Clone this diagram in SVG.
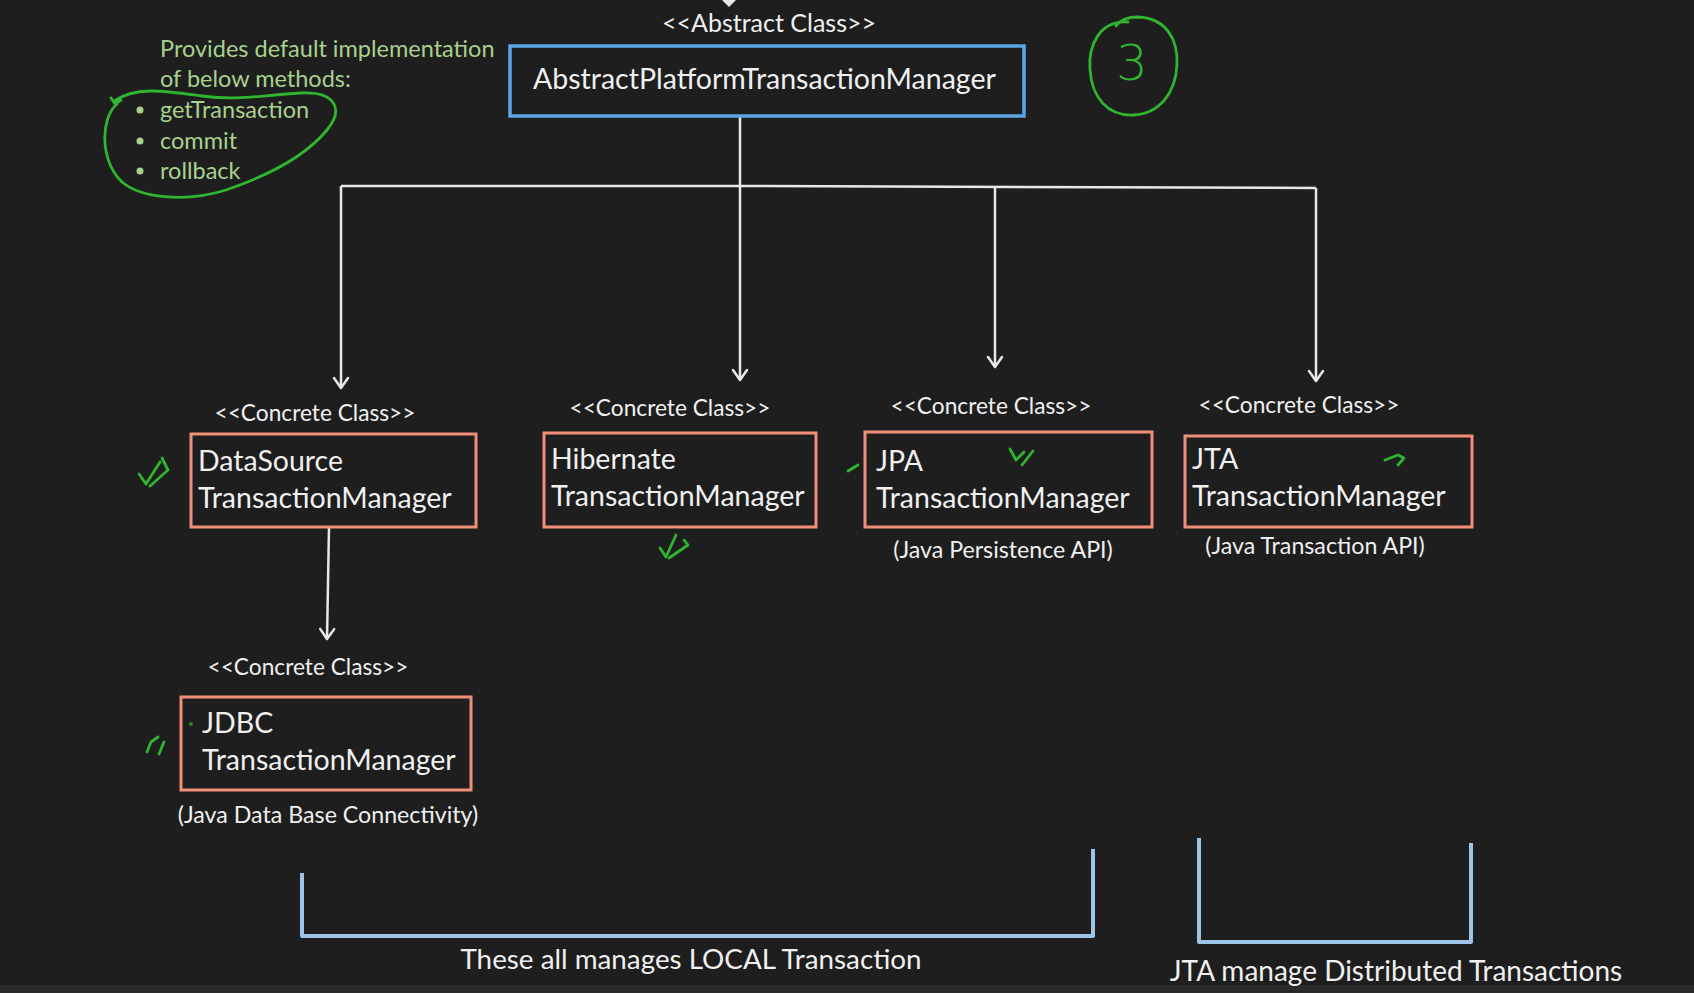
<svg xmlns="http://www.w3.org/2000/svg" width="1694" height="993" viewBox="0 0 1694 993">
<defs>
<style>
.t{font-family:Lato,"Open Sans","Liberation Sans",sans-serif;fill:#f0f0f0}
.box{font-size:28.5px}
.st{font-size:22.7px}
.par{font-size:23.2px}
.note{font-family:Lato,"Open Sans","Liberation Sans",sans-serif;fill:#a9d18e;font-size:23.5px}
.cls{fill:#1e1e1e;stroke:#ef8f78;stroke-width:3}
.abs{fill:#1e1e1e;stroke:#5da5e6;stroke-width:3.5}
.con{fill:none;stroke:#e8e8e8;stroke-width:2.5}
.brk{fill:none;stroke:#9dc3e6;stroke-width:4;stroke-linejoin:round}
.ink{fill:none;stroke:#2fb52f;stroke-width:2.8;stroke-linecap:round;stroke-linejoin:round}
</style>
<marker id="arr" markerUnits="userSpaceOnUse" markerWidth="20" markerHeight="20" refX="0" refY="0" orient="auto" overflow="visible">
<path d="M -10 -7 L 0 0 L -10 7" fill="none" stroke="#e8e8e8" stroke-width="2.5" stroke-linecap="round" stroke-linejoin="round"/>
</marker>
</defs>
<rect width="1694" height="993" fill="#1e1e1e"/>
<rect y="985" width="1694" height="8" fill="#2a2a2a"/>
<polygon points="722,0 736,0 729,7" fill="#e8e8e8"/>

<g id="connectors">
<line class="con" x1="740" y1="116" x2="740" y2="186"/>
<polyline class="con" points="341,186 740,186 1316,188"/>
<line class="con" x1="341" y1="186" x2="341" y2="388" marker-end="url(#arr)"/>
<line class="con" x1="740" y1="186" x2="740" y2="380" marker-end="url(#arr)"/>
<line class="con" x1="995" y1="187" x2="995" y2="367" marker-end="url(#arr)"/>
<line class="con" x1="1316" y1="188" x2="1316" y2="381" marker-end="url(#arr)"/>
<line class="con" x1="329" y1="527" x2="327" y2="639" marker-end="url(#arr)"/>
</g>

<g id="note">
<text class="note" x="160" y="57">Provides default implementation</text>
<text class="note" x="160" y="87">of below methods:</text>
<circle cx="140" cy="110" r="3.5" fill="#a9d18e"/>
<circle cx="140" cy="141" r="3.5" fill="#a9d18e"/>
<circle cx="140" cy="171" r="3.5" fill="#a9d18e"/>
<text class="note" x="160" y="118">getTransaction</text>
<text class="note" x="160" y="149">commit</text>
<text class="note" x="160" y="179">rollback</text>
<path class="ink" d="M 117 104 C 100 118, 100 162, 122 182 C 142 199, 188 202, 226 190 C 264 177, 304 158, 327 130 C 345 108, 334 91, 300 93 C 262 95, 240 101, 202 96 C 165 91, 136 86, 114 101 M 111 98 L 115 104 L 121 100"/>
</g>

<g id="step3">
<path class="ink" d="M 1128 22 C 1100 20, 1088 45, 1090 70 C 1092 98, 1108 116, 1133 115 C 1160 114, 1176 92, 1177 64 C 1178 38, 1165 18, 1138 17 C 1128 17, 1120 20, 1116 26"/>
<text x="1132" y="80" font-family="'DejaVu Sans',sans-serif" font-size="50" font-weight="300" fill="#2fb52f" text-anchor="middle">3</text>
</g>

<g id="abstract">
<text class="t" x="769" y="32" text-anchor="middle" font-size="25">&lt;&lt;Abstract Class&gt;&gt;</text>
<rect class="abs" x="510" y="46" width="514" height="70"/>
<text class="t box" x="533" y="89">AbstractPlatformTransactionManager</text>
</g>

<g id="datasource">
<text class="t st" x="315" y="421" text-anchor="middle">&lt;&lt;Concrete Class&gt;&gt;</text>
<rect class="cls" x="191" y="434" width="285" height="93"/>
<text class="t box" x="198" y="471">DataSource</text>
<text class="t box" x="198" y="508">TransactionManager</text>
</g>

<g id="hibernate">
<text class="t st" x="670" y="416" text-anchor="middle">&lt;&lt;Concrete Class&gt;&gt;</text>
<rect class="cls" x="544" y="433" width="272" height="94"/>
<text class="t box" x="551" y="469">Hibernate</text>
<text class="t box" x="551" y="506">TransactionManager</text>
</g>

<g id="jpa">
<text class="t st" x="991" y="414" text-anchor="middle">&lt;&lt;Concrete Class&gt;&gt;</text>
<rect class="cls" x="865" y="432" width="287" height="95"/>
<text class="t box" x="876" y="471">JPA</text>
<text class="t box" x="876" y="508">TransactionManager</text>
<text class="t par" x="1003" y="558" text-anchor="middle">(Java Persistence API)</text>
</g>

<g id="jta">
<text class="t st" x="1299" y="413" text-anchor="middle">&lt;&lt;Concrete Class&gt;&gt;</text>
<rect class="cls" x="1185" y="436" width="287" height="91"/>
<text class="t box" x="1192" y="469">JTA</text>
<text class="t box" x="1192" y="506">TransactionManager</text>
<text class="t par" x="1315" y="554" text-anchor="middle">(Java Transaction API)</text>
</g>

<g id="jdbc">
<text class="t st" x="308" y="675" text-anchor="middle">&lt;&lt;Concrete Class&gt;&gt;</text>
<rect class="cls" x="181" y="697" width="290" height="93"/>
<text class="t box" x="202" y="733">JDBC</text>
<text class="t box" x="202" y="770">TransactionManager</text>
<text class="t par" x="328" y="823" text-anchor="middle">(Java Data Base Connectivity)</text>
</g>

<g id="marks">
<path class="ink" d="M 139 474 L 146 484 L 160 462 M 150 486 L 168 470 L 162 458"/>
<path class="ink" d="M 660 548 L 666 557 L 676 535 M 669 558 L 688 545 L 684 540"/>
<path class="ink" d="M 848 471 L 858 465"/>
<path class="ink" d="M 1010 449 L 1016 460 L 1024 452 M 1022 465 L 1033 451"/>
<path class="ink" d="M 1385 460 L 1398 455 L 1404 458 M 1398 465 L 1404 458"/>
<path class="ink" d="M 147 752 L 151 742 L 158 737 M 159 754 L 164 742"/>
<circle cx="191" cy="724" r="2" fill="#2fb52f" opacity="0.7"/>
</g>

<g id="local">
<polyline class="brk" points="302,873 302,936 1093,936 1093,849"/>
<text class="t" x="691" y="969" text-anchor="middle" font-size="27.8">These all manages LOCAL Transaction</text>
</g>

<g id="distributed">
<polyline class="brk" points="1199,838 1199,942 1471,942 1471,843"/>
<text class="t" x="1396" y="981" text-anchor="middle" font-size="28">JTA manage Distributed Transactions</text>
</g>
</svg>
